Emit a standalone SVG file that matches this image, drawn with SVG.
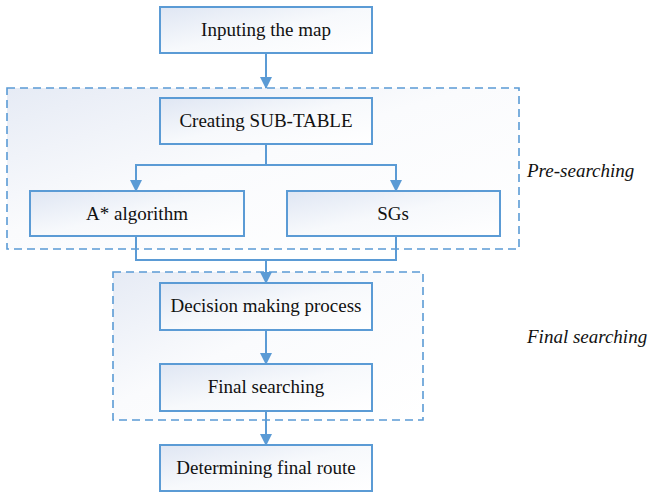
<svg xmlns="http://www.w3.org/2000/svg" width="648" height="492" viewBox="0 0 648 492">
<style>
.t{font-family:"Liberation Serif",serif;font-size:19px;fill:#111;text-anchor:middle}
.gl{font-family:"Liberation Serif",serif;font-size:19px;font-style:italic;fill:#111}
.box{fill:url(#g);stroke:#5b9bd5;stroke-width:2}
.grp{fill:url(#gd);stroke:#5b9bd5;stroke-width:1.6;stroke-dasharray:8 5}
.c{fill:none;stroke:#5b9bd5;stroke-width:2}
</style>
<defs>
<linearGradient id="g" x1="0" y1="0" x2="1" y2="1">
<stop offset="0" stop-color="#dfe6f3"/>
<stop offset="0.5" stop-color="#f7f9fc"/>
<stop offset="1" stop-color="#ffffff"/>
</linearGradient>
<linearGradient id="gd" x1="0" y1="0" x2="1" y2="1">
<stop offset="0" stop-color="#e6ebf5"/>
<stop offset="0.45" stop-color="#fafbfd"/>
<stop offset="1" stop-color="#ffffff"/>
</linearGradient>
<marker id="ah" markerWidth="12" markerHeight="12" refX="11" refY="6" orient="auto" markerUnits="userSpaceOnUse">
<path d="M0,0 L12,6 L0,12 Z" fill="#5b9bd5"/>
</marker>
</defs>
<rect width="648" height="492" fill="#fff"/>
<g id="pre-searching-group">
<rect class="grp" x="7" y="88" width="512" height="161"/>
<text class="gl" x="527" y="177">Pre-searching</text>
</g>
<g id="final-searching-group">
<rect class="grp" x="113" y="272" width="310" height="148"/>
<text class="gl" x="527" y="343">Final searching</text>
</g>
<g id="connectors">
<path class="c" d="M266,53 V88" marker-end="url(#ah)"/>
<path class="c" d="M266,144 V165 H136 V191" marker-end="url(#ah)"/>
<path class="c" d="M266,165 H396 V191" marker-end="url(#ah)"/>
<path class="c" d="M136,236 V260 H396 V236"/>
<path class="c" d="M266,260 V283" marker-end="url(#ah)"/>
<path class="c" d="M266,330 V364" marker-end="url(#ah)"/>
<path class="c" d="M266,411 V445" marker-end="url(#ah)"/>
</g>
<g id="n1"><rect class="box" x="160" y="7" width="212" height="46"/><text class="t" x="266" y="36">Inputing the map</text></g>
<g id="n2"><rect class="box" x="160" y="98" width="212" height="46"/><text class="t" x="266" y="127">Creating SUB-TABLE</text></g>
<g id="n3"><rect class="box" x="30" y="191" width="214" height="45"/><text class="t" x="137" y="220">A* algorithm</text></g>
<g id="n4"><rect class="box" x="287" y="191" width="213" height="45"/><text class="t" x="393" y="220">SGs</text></g>
<g id="n5"><rect class="box" x="160" y="283" width="212" height="47"/><text class="t" x="266" y="312">Decision making process</text></g>
<g id="n6"><rect class="box" x="160" y="364" width="212" height="47"/><text class="t" x="266" y="393">Final searching</text></g>
<g id="n7"><rect class="box" x="160" y="445" width="212" height="46"/><text class="t" x="266" y="474">Determining final route</text></g>
</svg>
